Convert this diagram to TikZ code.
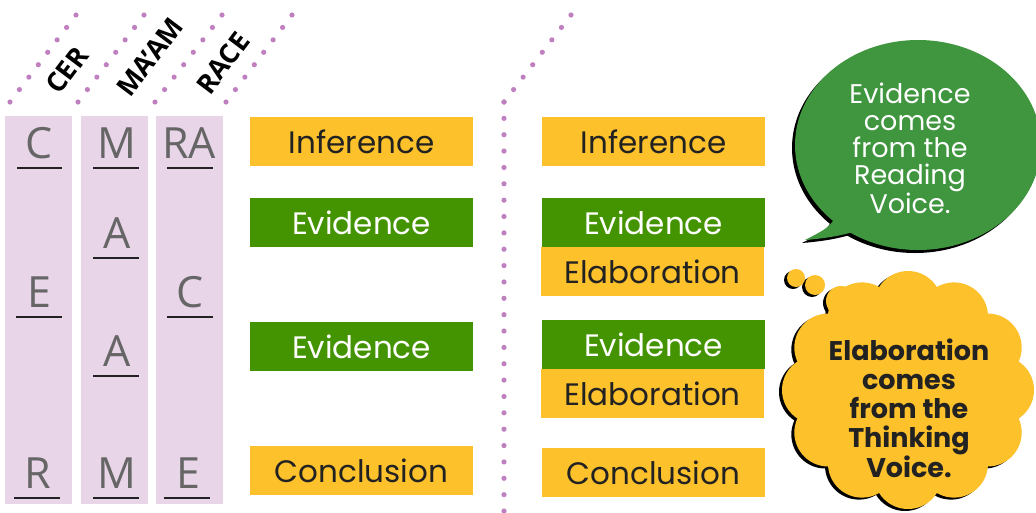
\documentclass[tikz,border=0pt]{standalone}
\usepackage{fontspec}
\setmainfont{Poppins}
\newfontfamily\lettfont{Open Sans}
\usetikzlibrary{calc}
\definecolor{cLav}{HTML}{E8D5E8}
\definecolor{cDot}{HTML}{C080C0}
\definecolor{cYellow}{HTML}{FCC12B}
\definecolor{cGreen}{HTML}{439400}
\definecolor{cBub}{HTML}{3F963F}
\definecolor{cGray}{HTML}{666666}
\definecolor{cDark}{HTML}{222222}
\definecolor{cLine}{HTML}{222222}
\tikzset{
  colbg/.style={fill=cLav, inner sep=0pt, minimum width=67pt, minimum height=388pt},
  boxbase/.style={inner sep=0pt, minimum width=223pt, minimum height=49pt, font=\fontsize{31}{34}\selectfont},
  ylbox/.style={boxbase, fill=cYellow, text=cDark},
  grbox/.style={boxbase, fill=cGreen, text=white},
  letter/.style={anchor=base, inner sep=0pt, font=\lettfont\fontsize{43}{45}\selectfont, text=cGray},
  uline/.style={draw=cLine, line width=1.1pt},
  headlbl/.style={rotate=53, inner sep=0pt, font=\lettfont\bfseries\fontsize{27}{29}\selectfont, text=black},
  dotfill/.style={fill=cDot},
  bubtext/.style={align=center, text=white, font=\fontsize{27}{27}\selectfont},
  cloudtext/.style={align=center, text=cDark, font=\bfseries\fontsize{27}{29}\selectfont},
}
\newcommand\dotrow[3]{\foreach \i in {0,...,#3} \fill[dotfill] ($(#1)!{\i/#3}!(#2)$) circle (2.6);}
\begin{document}
\begin{tikzpicture}[x=1pt,y=-1pt]
\useasboundingbox (0,0) rectangle (1036,512);
\clip (0,0) rectangle (1036,512);
% dotted guide lines
\coordinate (d1a) at (10,102); \coordinate (d1b) at (76,15);
\coordinate (d2a) at (78,102); \coordinate (d2b) at (144,15);
\coordinate (d3a) at (155,102); \coordinate (d3b) at (222,15);
\coordinate (d4a) at (226,102); \coordinate (d4b) at (292,15);
\coordinate (d5a) at (504,102); \coordinate (d5b) at (571,15);
\coordinate (vb) at (504,511);
\dotrow{d1a}{d1b}{7}
\dotrow{d2a}{d2b}{7}
\dotrow{d3a}{d3b}{7}
\dotrow{d4a}{d4b}{7}
\dotrow{d5a}{d5b}{7}
\dotrow{d5a}{vb}{25}
% headings
\node[headlbl] (hcer) at (67,70) {CER};
\node[headlbl] (hmaam) at (150,57) {MA’AM};
\node[headlbl] (hrace) at (223,63) {RACE};
% columns
\node[colbg] (col1) at (38.5,310) {};
\node[colbg] (col2) at (114.5,310) {};
\node[colbg] (col3) at (189.5,310) {};
% column 1
\node[letter] (c1a) at (39,158) {C};
\draw[uline] (17,168) -- (62,168);
\node[letter] (c1b) at (39,307) {E};
\draw[uline] (16,317) -- (62,317);
\node[letter] (c1c) at (38,488) {R};
\draw[uline] (14,498) -- (60,498);
% column 2
\node[letter] (c2a) at (117,158) {M};
\draw[uline] (93,168) -- (139,168);
\node[letter] (c2b) at (117,248) {A};
\draw[uline] (93,258) -- (139,258);
\node[letter] (c2c) at (117,366) {A};
\draw[uline] (93,376) -- (139,376);
\node[letter] (c2d) at (117,488) {M};
\draw[uline] (93,498) -- (139,498);
% column 3
\node[letter] (c3a) at (189,158) {RA};
\draw[uline] (167,168) -- (213,168);
\node[letter] (c3b) at (190,307) {C};
\draw[uline] (167,317) -- (213,317);
\node[letter] (c3c) at (188,488) {E};
\draw[uline] (164,498) -- (210,498);
% left boxes
\node[ylbox] (linf) at (361.5,141.5) {Inference};
\node[grbox] (lev1) at (361.5,222.5) {Evidence};
\node[grbox] (lev2) at (361.5,346.5) {Evidence};
\node[ylbox] (lcon) at (361.5,470.5) {Conclusion};
% right boxes
\node[ylbox] (rinf) at (653.5,141.5) {Inference};
\node[grbox] (rev1) at (653.5,222.5) {Evidence};
\node[ylbox] (rel1) at (652.5,271.5) {Elaboration};
\node[grbox] (rev2) at (653.5,344.5) {Evidence};
\node[ylbox] (rel2) at (652.5,393.5) {Elaboration};
\node[ylbox] (rcon) at (653.5,472.5) {Conclusion};
% speech bubble
\begin{scope}[shift={(-3,3)}]
  \fill[black] (918,145) ellipse [x radius=123, y radius=105];
  \fill[black] (840,205) .. controls (832,226) .. (805,240) .. controls (830,238) and (852,234) .. (868,226) -- cycle;
\end{scope}
\fill[cBub] (918,145) ellipse [x radius=123, y radius=105];
\fill[cBub] (840,205) .. controls (832,226) .. (805,240) .. controls (830,238) and (852,234) .. (868,226) -- cycle;
\node[bubtext] (bt) at (910,148) {Evidence\\comes\\from the\\Reading\\Voice.};
% thought cloud
\begin{scope}[shift={(-3,2)}]
  \fill[black] (908,390) ellipse [x radius=100, y radius=95];
  \foreach \a in {0,30,...,330} \fill[black] ({908+92*cos(\a)},{390+85*sin(\a)}) circle (34);
  \fill[black] (796,278) circle (9);
  \fill[black] (815,285) circle (10);
  \fill[black] (841,301) circle (15);
\end{scope}
\fill[cYellow] (908,390) ellipse [x radius=100, y radius=95];
\foreach \a in {0,30,...,330} \fill[cYellow] ({908+92*cos(\a)},{390+85*sin(\a)}) circle (34);
\fill[cYellow] (796,278) circle (9);
\fill[cYellow] (815,285) circle (10);
\fill[cYellow] (841,301) circle (15);
\node[cloudtext] (ct) at (909,408) {Elaboration\\comes\\from the\\Thinking\\Voice.};
\end{tikzpicture}
\end{document}
